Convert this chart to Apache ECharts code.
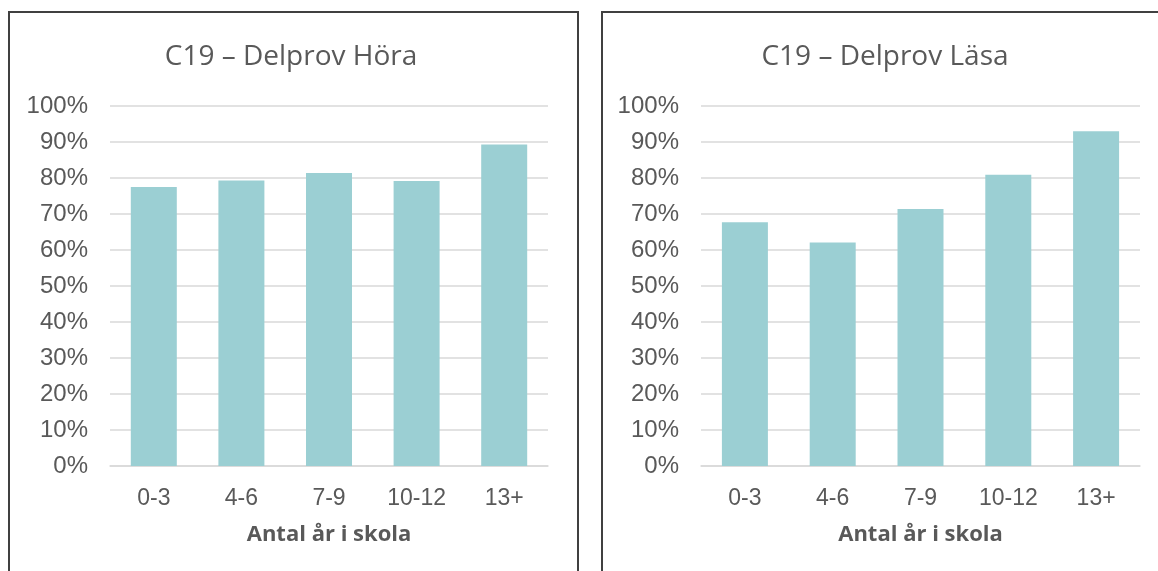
<!DOCTYPE html>
<html>
<head>
<meta charset="utf-8">
<script src="https://cdn.jsdelivr.net/npm/echarts@6/dist/echarts.min.js"></script>
<style>
  html, body { margin: 0; padding: 0; background: #fff; }
  #chart { width: 1158px; height: 571px; }
</style>
</head>
<body>
<div id="chart"></div>
<script>
// data
var categories = ['0-3', '4-6', '7-9', '10-12', '13+']
var horaValues = [0.775, 0.793, 0.814, 0.792, 0.893]
var lasaValues = [0.677, 0.621, 0.714, 0.809, 0.930]
var titles = ['C19 – Delprov Höra', 'C19 – Delprov Läsa']
var axisTitle = 'Antal år i skola'

var barColor = '#9BCFD3'
var textColor = '#595959'
var labelFont = '"Liberation Sans", Arial, sans-serif'

function makeX (idx) {
  return {
    type: 'category',
    gridIndex: idx,
    data: categories,
    axisTick: { show: false },
    axisLine: { lineStyle: { color: '#D9D9D9', width: 1.5 } },
    axisLabel: { color: textColor, fontSize: 23, fontFamily: labelFont, margin: 21 },
    name: axisTitle,
    nameLocation: 'middle',
    nameGap: 58,
    nameTextStyle: { color: textColor, fontSize: 22, fontWeight: 'bold', fontFamily: '"Open Sans", sans-serif' }
  }
}

function makeY (idx) {
  return {
    type: 'value',
    gridIndex: idx,
    min: 0,
    max: 1,
    interval: 0.1,
    axisLine: { show: false },
    axisTick: { show: false },
    splitLine: { lineStyle: { color: '#D9D9D9', width: 1.5 } },
    axisLabel: {
      color: textColor,
      fontSize: 24,
      fontFamily: labelFont,
      margin: 22,
      formatter: function (v) { return Math.round(v * 100) + '%' }
    }
  }
}

var chart = echarts.init(document.getElementById('chart'))
chart.setOption({
  animation: false,
  grid: [
    { left: 110, right: 610, top: 106, bottom: 105 },
    { left: 701, right: 18, top: 106, bottom: 105 }
  ],
  xAxis: [makeX(0), makeX(1)],
  yAxis: [makeY(0), makeY(1)],
  series: [
    { type: 'bar', xAxisIndex: 0, yAxisIndex: 0, data: horaValues, barWidth: 46, itemStyle: { color: barColor } },
    { type: 'bar', xAxisIndex: 1, yAxisIndex: 1, data: lasaValues, barWidth: 46, itemStyle: { color: barColor } }
  ],
  graphic: [
    { type: 'rect', shape: { x: 9, y: 12, width: 569, height: 580 }, style: { fill: 'none', stroke: '#404040', lineWidth: 2 }, z: 100 },
    { type: 'rect', shape: { x: 602, y: 12, width: 580, height: 580 }, style: { fill: 'none', stroke: '#404040', lineWidth: 2 }, z: 100 },
    { type: 'text', x: 291, y: 57, style: { text: titles[0], fill: textColor, fontSize: 28, fontFamily: '"Open Sans", sans-serif', textAlign: 'center', textVerticalAlign: 'middle' } },
    { type: 'text', x: 885, y: 57, style: { text: titles[1], fill: textColor, fontSize: 28, fontFamily: '"Open Sans", sans-serif', textAlign: 'center', textVerticalAlign: 'middle' } }
  ]
})
</script>
</body>
</html>
